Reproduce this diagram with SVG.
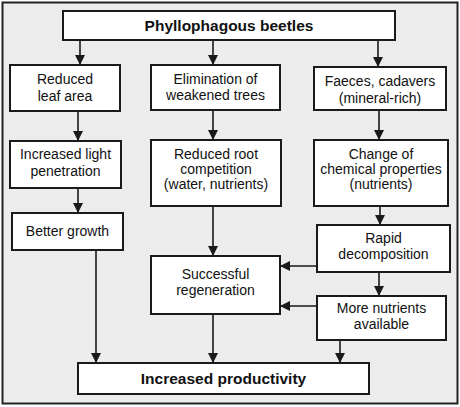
<svg xmlns="http://www.w3.org/2000/svg" width="460" height="407" viewBox="0 0 460 407">
<defs>
<marker id="ah" viewBox="0 0 10 10" refX="10" refY="5" markerWidth="10" markerHeight="10" markerUnits="userSpaceOnUse" orient="auto">
<path d="M0,0 L10,5 L0,10 Z" fill="#1a1a1a"/>
</marker>
</defs>
<style>
.box{fill:#ffffff;stroke:#1a1a1a;stroke-width:2}
.t{font-family:"Liberation Sans",Arial,sans-serif;font-size:14px;fill:#111;text-anchor:middle}
.b{font-family:"Liberation Sans",Arial,sans-serif;font-size:15.5px;font-weight:bold;fill:#111;text-anchor:middle}
.c{stroke:#1a1a1a;stroke-width:1.6;fill:none;marker-end:url(#ah)}
</style>
<rect x="2.5" y="2.5" width="455" height="401" fill="#ececec" stroke="#222" stroke-width="2"/>
<g id="connectors">
<line class="c" x1="80" y1="40" x2="80" y2="65"/>
<line class="c" x1="213" y1="40" x2="213" y2="65"/>
<line class="c" x1="378" y1="40" x2="378" y2="67"/>
<line class="c" x1="78" y1="111" x2="78" y2="141"/>
<line class="c" x1="213" y1="110" x2="213" y2="140"/>
<line class="c" x1="379" y1="110" x2="379" y2="140"/>
<line class="c" x1="78" y1="188" x2="78" y2="213"/>
<line class="c" x1="213" y1="206" x2="213" y2="256"/>
<line class="c" x1="380" y1="206" x2="380" y2="225"/>
<line class="c" x1="96" y1="250" x2="96" y2="363"/>
<line class="c" x1="317" y1="266" x2="280" y2="266"/>
<line class="c" x1="379" y1="272" x2="379" y2="296"/>
<line class="c" x1="317" y1="306" x2="280" y2="306"/>
<line class="c" x1="213" y1="314" x2="213" y2="363"/>
<line class="c" x1="340" y1="340" x2="340" y2="363"/>
</g>
<g id="n_beetles"><rect class="box" x="63" y="11" width="332" height="29"/><text class="b" x="229" y="31">Phyllophagous beetles</text></g>
<g id="n_leaf"><rect class="box" x="10" y="65" width="110" height="46"/><text class="t" x="65" y="84">Reduced</text><text class="t" x="65" y="101">leaf area</text></g>
<g id="n_elim"><rect class="box" x="151" y="65" width="129" height="45"/><text class="t" x="215.5" y="84">Elimination of</text><text class="t" x="215.5" y="100">weakened trees</text></g>
<g id="n_faeces"><rect class="box" x="314" y="67" width="132" height="43"/><text class="t" x="380" y="86">Faeces, cadavers</text><text class="t" x="380" y="103">(mineral-rich)</text></g>
<g id="n_light"><rect class="box" x="10" y="141" width="111" height="47"/><text class="t" x="65.5" y="159">Increased light</text><text class="t" x="65.5" y="176">penetration</text></g>
<g id="n_root"><rect class="box" x="151" y="140" width="130" height="66"/><text class="t" x="216" y="159">Reduced root</text><text class="t" x="216" y="174">competition</text><text class="t" x="216" y="189">(water, nutrients)</text></g>
<g id="n_chem"><rect class="box" x="314" y="140" width="134" height="66"/><text class="t" x="381" y="159">Change of</text><text class="t" x="381" y="174">chemical properties</text><text class="t" x="381" y="189">(nutrients)</text></g>
<g id="n_growth"><rect class="box" x="12" y="213" width="111" height="37"/><text class="t" x="67.5" y="236">Better growth</text></g>
<g id="n_regen"><rect class="box" x="151" y="256" width="129" height="58"/><text class="t" x="215.5" y="279">Successful</text><text class="t" x="215.5" y="295">regeneration</text></g>
<g id="n_decomp"><rect class="box" x="317" y="225" width="133" height="47"/><text class="t" x="383.5" y="243">Rapid</text><text class="t" x="383.5" y="259">decomposition</text></g>
<g id="n_nutr"><rect class="box" x="317" y="296" width="129" height="44"/><text class="t" x="381.5" y="313">More nutrients</text><text class="t" x="381.5" y="329">available</text></g>
<g id="n_prod"><rect class="box" x="78" y="363" width="291" height="31"/><text class="b" x="223.5" y="384">Increased productivity</text></g>
</svg>
